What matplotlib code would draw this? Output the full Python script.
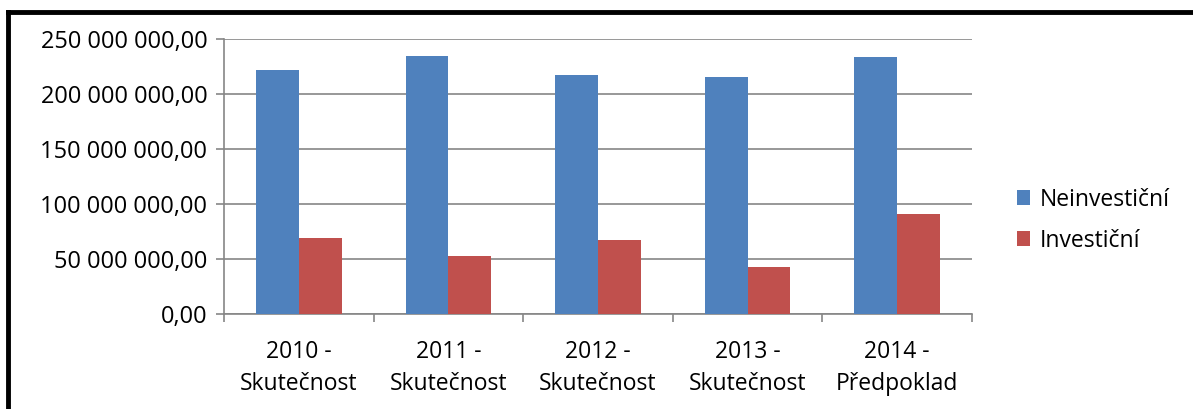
import matplotlib.pyplot as plt
import matplotlib.lines as mlines
import numpy as np

# data
categories = ['2010 -\nSkutečnost', '2011 -\nSkutečnost', '2012 -\nSkutečnost',
              '2013 -\nSkutečnost', '2014 -\nPředpoklad']
neinvesticni = [221.5e6, 234.5e6, 217.3e6, 215.2e6, 233.9e6]
investicni = [68.8e6, 53.0e6, 67.0e6, 42.4e6, 90.9e6]
y_ticks = [0, 50e6, 100e6, 150e6, 200e6, 250e6]

plt.rcParams['font.family'] = ['Open Sans', 'DejaVu Sans']

fig = plt.figure(figsize=(11.93, 4.09), dpi=100)
ax = fig.add_axes([224 / 1193, 95 / 409, 748 / 1193, 275 / 409])

x = np.arange(len(categories))
w = 1 / 3.5
ax.bar(x - w / 2, neinvesticni, width=w, color='#4F81BD', label='Neinvestiční', zorder=3)
ax.bar(x + w / 2, investicni, width=w, color='#C0504D', label='Investiční', zorder=3)

ax.set_xlim(-0.5, len(categories) - 0.5)
ax.set_ylim(0, 250e6)
ax.set_yticks(y_ticks)
ax.set_yticklabels([f'{v:,.2f}'.replace(',', ' ').replace('.', ',') for v in y_ticks],
                   fontsize=17)
ax.yaxis.grid(True, color='#868686', linewidth=1.2, zorder=0)

# category labels centred, tick marks between categories
ax.set_xticks(x)
ax.set_xticklabels(categories, fontsize=16.5, linespacing=1.4)
ax.tick_params(axis='x', length=0, pad=19)
ax.set_xticks(np.arange(-0.5, len(categories)), minor=True)
ax.tick_params(axis='x', which='minor', length=6, color='#868686', width=1.2)
ax.tick_params(axis='y', length=6, color='#868686', width=1.2, pad=6)

for s in ['top', 'right']:
    ax.spines[s].set_visible(False)
for s in ['left', 'bottom']:
    ax.spines[s].set_color('#868686')
    ax.spines[s].set_linewidth(1.2)

leg = fig.legend(loc='upper left', bbox_to_anchor=(996 / 1193, 1 - 167 / 409),
                 frameon=False, fontsize=16.5, handlelength=0.6, handleheight=0.6,
                 handletextpad=0.4, labelspacing=0.75)

# thick black frame on top and left like the original
fig.add_artist(mlines.Line2D([8 / 1193, 1], [1 - 12 / 409, 1 - 12 / 409],
                             color='black', linewidth=3.5, transform=fig.transFigure))
fig.add_artist(mlines.Line2D([8 / 1193, 8 / 1193], [0, 1 - 12 / 409],
                             color='black', linewidth=3.5, transform=fig.transFigure))

fig.savefig('out.png', dpi=100)
